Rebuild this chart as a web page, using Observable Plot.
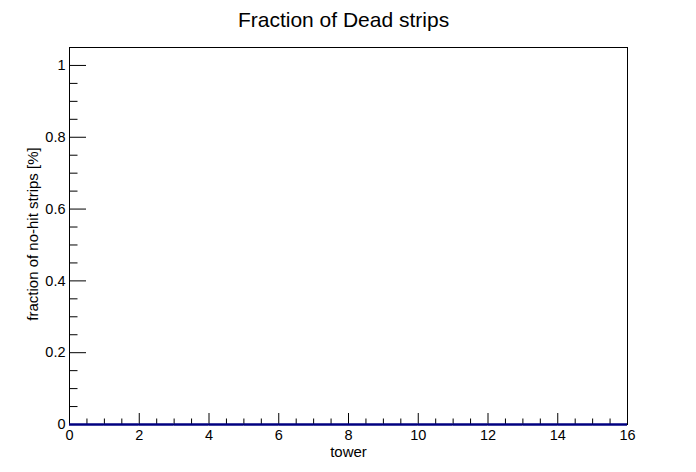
<!DOCTYPE html>
<html>
<head>
<meta charset="utf-8">
<script src="https://cdn.jsdelivr.net/npm/d3@7"></script>
<script src="https://cdn.jsdelivr.net/npm/@observablehq/plot@0.6"></script>
<style>
  html, body { margin: 0; padding: 0; background: #ffffff; }
  svg { display: block; }
</style>
</head>
<body>
<div id="chart"></div>
<script>
// ---- data ----
const towers = [0, 1, 2, 3, 4, 5, 6, 7, 8, 9, 10, 11, 12, 13, 14, 15];
const fractions = [0, 0, 0, 0, 0, 0, 0, 0, 0, 0, 0, 0, 0, 0, 0, 0];
const xMajorTicks = [0, 2, 4, 6, 8, 10, 12, 14, 16];
const xMinorTicks = [0.5, 1, 1.5, 2.5, 3, 3.5, 4.5, 5, 5.5, 6.5, 7, 7.5, 8.5, 9, 9.5, 10.5, 11, 11.5, 12.5, 13, 13.5, 14.5, 15, 15.5];
const yMajorTicks = [0, 0.2, 0.4, 0.6, 0.8, 1];
const yMinorTicks = [0.05, 0.1, 0.15, 0.25, 0.3, 0.35, 0.45, 0.5, 0.55, 0.65, 0.7, 0.75, 0.85, 0.9, 0.95];
const titleText = "Fraction of Dead strips";
const xTitle = "tower";
const yTitle = "fraction of no-hit strips [%]";

// ---- layout ----
const W = 696, H = 472;
const mL = 69, mR = 69, mT = 47, mB = 48;
const xDomain = [0, 16], yDomain = [0, 1.05];
const innerW = W - mL - mR, innerH = H - mT - mB;
const xPerPx = (xDomain[1] - xDomain[0]) / innerW;
const yPerPx = (yDomain[1] - yDomain[0]) / innerH;

const bins = towers.map((t, i) => ({lo: t, hi: t + 1, v: fractions[i]}));

const chart = Plot.plot({
  width: W,
  height: H,
  marginLeft: mL,
  marginRight: mR,
  marginTop: mT,
  marginBottom: mB,
  x: {domain: xDomain},
  y: {domain: yDomain},
  style: {fontFamily: "'Liberation Sans', Arial, Helvetica, sans-serif", fontSize: "14.5px", color: "#000", background: "#fff"},
  marks: [
    Plot.frame({stroke: "#000"}),
    // x ticks (inward)
    Plot.ruleX(xMajorTicks, {x: d => d, y1: () => 0, y2: () => 11 * yPerPx, stroke: "#000"}),
    Plot.ruleX(xMinorTicks, {x: d => d, y1: () => 0, y2: () => 5.5 * yPerPx, stroke: "#000"}),
    // y ticks (inward)
    Plot.ruleY(yMajorTicks, {y: d => d, x1: () => 0, x2: () => 17 * xPerPx, stroke: "#000"}),
    Plot.ruleY(yMinorTicks, {y: d => d, x1: () => 0, x2: () => 8.5 * xPerPx, stroke: "#000"}),
    Plot.axisX({ticks: xMajorTicks, tickSize: 0, tickPadding: 5.5, fontSize: 14.5, label: null, tickFormat: d => String(d)}),
    Plot.axisY({ticks: yMajorTicks, tickSize: 0, tickPadding: 4, fontSize: 14.5, label: null, tickFormat: d => String(d)}),
    // histogram (all-zero contents)
    Plot.ruleY(bins, {x1: "lo", x2: "hi", y: "v", stroke: "#000080", strokeWidth: 2.5}),
    // titles
    Plot.text([titleText], {frameAnchor: "top", textAnchor: "middle", lineAnchor: "bottom", dy: -20.5, dx: -5, fontSize: 21, fill: "#000", text: d => d}),
    Plot.text([xTitle], {frameAnchor: "bottom", textAnchor: "middle", lineAnchor: "bottom", dy: 32, fontSize: 15, fill: "#000", text: d => d}),
    Plot.text([yTitle], {frameAnchor: "left", textAnchor: "middle", lineAnchor: "bottom", rotate: -90, dx: -31.5, dy: -2, fontSize: 15, fill: "#000", text: d => d})
  ]
});
document.getElementById("chart").appendChild(chart);
</script>
</body>
</html>
